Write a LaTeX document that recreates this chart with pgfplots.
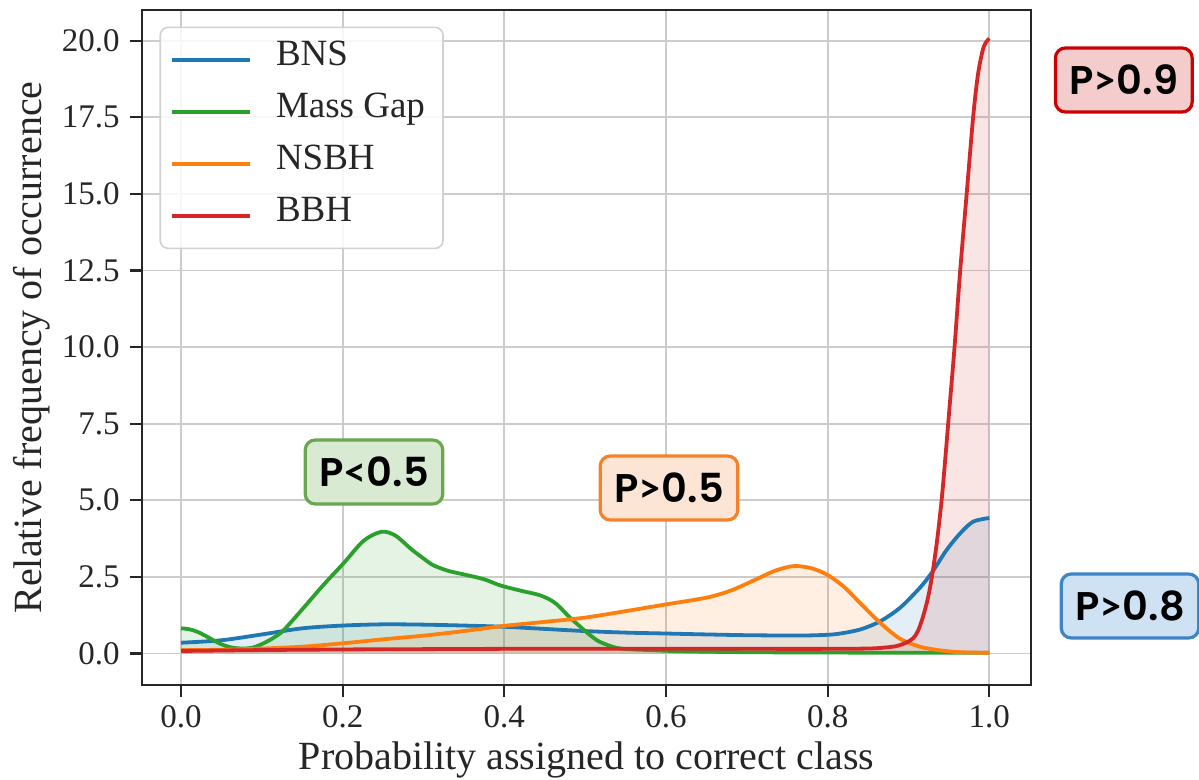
\documentclass[border=0pt]{standalone}
\usepackage{pgfplots}
\pgfplotsset{compat=1.18}
\usepackage{pgfplotstable}
\usepackage{fontspec}
\setmainfont{Liberation Serif}
\newfontfamily\boxfont{Poppins}[BoldFont={Poppins SemiBold}]
\newfontfamily\relfont{Lato}

\definecolor{cblue}{HTML}{1F77B4}
\definecolor{corange}{HTML}{FF7F0E}
\definecolor{cgreen}{HTML}{2CA02C}
\definecolor{cred}{HTML}{D62728}
\definecolor{axisgray}{HTML}{262626}
\definecolor{tagredline}{HTML}{CC0000}
\definecolor{tagredfill}{HTML}{F4CCCC}
\definecolor{tagblueline}{HTML}{3D85C6}
\definecolor{tagbluefill}{HTML}{CFE2F3}
\definecolor{taggreenline}{HTML}{6AA84F}
\definecolor{taggreenfill}{HTML}{D9EAD3}
\definecolor{tagorangeline}{HTML}{F5822A}
\definecolor{tagorangefill}{HTML}{FCE5D5}

% kernel density estimates of the probability assigned to the correct class
\pgfplotstableread{
x y
0.000 0.35
0.050 0.43
0.100 0.62
0.150 0.82
0.200 0.91
0.250 0.95
0.300 0.94
0.350 0.91
0.400 0.87
0.450 0.80
0.500 0.73
0.550 0.68
0.600 0.65
0.650 0.62
0.700 0.595
0.750 0.585
0.780 0.59
0.810 0.63
0.840 0.78
0.865 1.05
0.890 1.50
0.915 2.17
0.930 2.68
0.947 3.37
0.964 3.92
0.980 4.30
1.000 4.42
}\bns

\pgfplotstableread{
x y
0.000 0.82
0.010 0.79
0.020 0.71
0.032 0.55
0.048 0.32
0.063 0.19
0.078 0.16
0.090 0.20
0.102 0.33
0.115 0.52
0.127 0.76
0.151 1.47
0.176 2.23
0.201 2.94
0.226 3.68
0.248 3.97
0.265 3.85
0.285 3.40
0.300 3.10
0.312 2.88
0.330 2.70
0.353 2.56
0.375 2.42
0.395 2.22
0.420 2.05
0.444 1.90
0.460 1.70
0.469 1.50
0.480 1.20
0.494 0.87
0.506 0.60
0.518 0.38
0.539 0.18
0.560 0.13
0.580 0.11
0.620 0.07
0.700 0.04
0.800 0.03
0.900 0.02
1.000 0.02
}\massgap

\pgfplotstableread{
x y
0.000 0.11
0.050 0.12
0.100 0.16
0.150 0.22
0.200 0.33
0.250 0.46
0.300 0.58
0.350 0.73
0.400 0.90
0.450 1.03
0.500 1.17
0.550 1.38
0.600 1.60
0.650 1.82
0.680 2.05
0.710 2.40
0.735 2.70
0.758 2.85
0.780 2.78
0.800 2.56
0.820 2.18
0.840 1.65
0.865 1.00
0.889 0.49
0.914 0.22
0.939 0.10
0.964 0.04
1.000 0.02
}\nsbh

\pgfplotstableread{
x y
0.000 0.08
0.100 0.11
0.200 0.13
0.300 0.14
0.400 0.15
0.500 0.15
0.600 0.15
0.700 0.15
0.800 0.15
0.850 0.16
0.870 0.19
0.885 0.24
0.897 0.35
0.906 0.50
0.912 0.75
0.918 1.20
0.924 1.80
0.929 2.50
0.935 3.60
0.941 5.00
0.946 6.50
0.9505 7.94
0.957 10.00
0.964 12.50
0.972 15.00
0.980 17.50
0.986 18.90
0.992 19.70
0.996 19.95
1.000 20.07
}\bbh

\begin{document}
\begin{tikzpicture}
\useasboundingbox (-71pt,-47.5pt) rectangle (528.5pt,342.5pt);
\begin{axis}[
  at={(0,0)}, anchor=south west,
  scale only axis, width=444.5pt, height=337.5pt,
  xmin=-0.0483, xmax=1.0516, ymin=-1.03, ymax=21.0,
  axis line style={draw=axisgray, line width=1.3pt},
  grid=major, grid style={draw=black!20, line width=0.9pt},
  tick align=outside, major tick length=6pt,
  tick style={draw=axisgray, line width=1.1pt},
  xtick pos=bottom, ytick pos=left,
  xtick={0,0.2,0.4,0.6,0.8,1.0},
  xticklabels={0.0,0.2,0.4,0.6,0.8,1.0},
  ytick={0,2.5,5,7.5,10,12.5,15,17.5,20},
  yticklabels={0.0,2.5,5.0,7.5,10.0,12.5,15.0,17.5,20.0},
  ticklabel style={font=\fontsize{16.5}{18}\selectfont, text=axisgray},
  xticklabel style={inner sep=0pt, yshift=-4pt},
  yticklabel style={inner sep=0pt, xshift=-5pt},
  /pgf/number format/assume math mode=true,
  xlabel={Probability assigned to correct class},
  ylabel={Relative frequency of occurrence},
  label style={font=\fontsize{20}{24}\selectfont, text=axisgray},
  xlabel style={at={(axis description cs:0.5,-0.1259)}, anchor=base},
  ylabel style={at={(axis description cs:-0.1129,0.5)}, anchor=base},
  legend cell align=left,
  legend style={at={(axis description cs:0.0196,0.9754)}, anchor=north west,
    draw=black!18, line width=0.8pt, rounded corners=4pt,
    fill=white, fill opacity=0.85, text opacity=1,
    font=\fontsize{18.5}{21}\selectfont, text=axisgray,
    inner xsep=5pt, inner ysep=6.5pt, row sep=6.5pt,
    nodes={inner xsep=4pt, inner ysep=0pt, text height=12.5pt, text depth=7pt}},
  legend image code/.code={\draw[#1, line width=1.9pt] (0pt,0pt) -- (39pt,0pt);
    \path (47pt,0pt);},
  every axis plot/.append style={smooth, tension=0.5},
]
% shaded areas under each density
\addplot[draw=none, fill=cblue, fill opacity=0.12, forget plot] table {\bns} \closedcycle;
\addplot[draw=none, fill=cgreen, fill opacity=0.12, forget plot] table {\massgap} \closedcycle;
\addplot[draw=none, fill=corange, fill opacity=0.12, forget plot] table {\nsbh} \closedcycle;
\addplot[draw=none, fill=cred, fill opacity=0.12, forget plot] table {\bbh} \closedcycle;
% density curves
\addplot[cblue, line width=1.9pt] table {\bns};
\addlegendentry{BNS}
\addplot[cgreen, line width=1.9pt] table {\massgap};
\addlegendentry{Mass Gap}
\addplot[corange, line width=1.9pt] table {\nsbh};
\addlegendentry{NSBH}
\addplot[cred, line width=1.9pt] table {\bbh};
\addlegendentry{BBH}
\end{axis}

% threshold tags
\newcommand{\gt}{{\relfont\bfseries >}}
\newcommand{\lt}{{\relfont\bfseries <}}
\tikzset{tag/.style={rounded corners=5pt, line width=1.6pt, inner xsep=7pt,
  minimum height=32pt, text=black,
  font=\boxfont\bfseries\fontsize{20}{23}\selectfont}}
\node[tag, draw=tagredline, fill=tagredfill] at (490.9pt,302.5pt) {P\gt0.9};
\node[tag, draw=tagblueline, fill=tagbluefill] at (494pt,39.5pt) {P\gt0.8};
\node[tag, draw=taggreenline, fill=taggreenfill] at (116pt,106.5pt) {P\lt0.5};
\node[tag, draw=tagorangeline, fill=tagorangefill] at (263.5pt,98.5pt) {P\gt0.5};
\end{tikzpicture}
\end{document}
